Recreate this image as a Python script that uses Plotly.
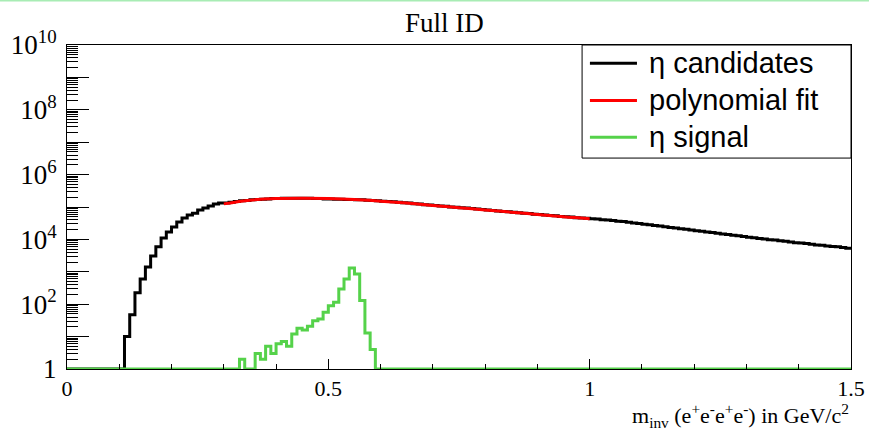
import plotly.graph_objects as go

# ---- data -------------------------------------------------------------
bin_width = 0.01
x_min, x_max = 0.0, 1.5

# eta candidates, counts per 0.01 GeV/c^2 bin (bins 0.00 ... 1.49)
candidates = [
    0, 0, 0, 0, 0, 0, 0, 0, 0, 0,                                  # 0.00-0.09
    0, 10, 47, 224, 603, 1413, 3090, 5888, 10960, 16980,           # 0.10-0.19
    23990, 34670, 45710, 56230, 64570, 81280, 93330, 107200, 123000, 131800,  # 0.20-0.29
    131800, 141300, 147900, 154900, 158500, 166000, 169800, 173800, 177800, 182000,  # 0.30-0.39
    182000, 186200, 186200, 186200, 186200, 186200, 186200, 182000, 182000, 177800,  # 0.40-0.49
    177800, 173800, 173800, 169800, 169800, 166000, 166000, 162200, 158500, 154900,  # 0.50-0.59
    151400, 147900, 144500, 141300, 134900, 131800, 125900, 123000, 117500, 114800,  # 0.60-0.69
    112200, 107200, 104700, 100000, 97720, 95500, 93330, 89130, 87100, 83180,        # 0.70-0.79
    81280, 77620, 75860, 72440, 70790, 69180, 66070, 64570, 63100, 60260,            # 0.80-0.89
    58880, 56230, 54950, 53700, 51290, 50120, 48980, 46770, 45710, 44670,            # 0.90-0.99
    43650, 42660, 40740, 39810, 38020, 36310, 35480, 33880, 32360, 30900,            # 1.00-1.09
    29510, 28180, 26920, 25700, 24550, 23440, 22390, 21380, 20420, 19500,            # 1.10-1.19
    18620, 17780, 16980, 16220, 15490, 14790, 14130, 13490, 12880, 12300,            # 1.20-1.29
    11750, 11220, 10720, 10230, 9772, 9550, 9120, 8710, 8318, 7943,                  # 1.30-1.39
    7762, 7413, 7079, 6761, 6607, 6310, 6026, 5888, 5623, 5370,                      # 1.40-1.49
]

# eta signal, counts per bin (only non-empty region 0.33 - 0.58 listed)
signal_start = 0.33
signal = [2, 0, 0, 3, 2, 5, 3, 6, 7, 5, 12, 18, 16, 21, 31, 35, 56,
          90, 114, 295, 600, 1300, 850, 129, 13, 4]

# polynomial fit, sampled curve (x in GeV/c^2, y in counts)
fit_x = [0.30, 0.35, 0.40, 0.45, 0.50, 0.55, 0.60, 0.65, 0.70, 0.75,
         0.80, 0.85, 0.90, 0.95, 1.00]
fit_y = [125000, 162000, 182000, 186000, 182000, 170000, 151000, 132000,
         112000, 95500, 81300, 69200, 58900, 50100, 43700]

legend_names = ["\u03b7 candidates", "polynomial fit", "\u03b7 signal"]
title_text = "Full ID"
x_title = "m<sub>inv</sub> (e<sup>+</sup>e<sup>-</sup>e<sup>+</sup>e<sup>-</sup>) in GeV/c<sup>2</sup>"
x_tickvals = [0, 0.5, 1, 1.5]
x_ticktext = ["0", "0.5", "1", "1.5"]
y_decades = list(range(0, 11))
y_ticktext = ["1", "", "10<sup>2</sup>", "", "10<sup>4</sup>", "", "10<sup>6</sup>", "",
              "10<sup>8</sup>", "", "10<sup>10</sup>"]

# ---- build histogram step arrays ------------------------------------
n_bins = len(candidates)
edges = [round(x_min + i * bin_width, 4) for i in range(n_bins + 1)]
y_floor = 1  # ROOT draws empty bins at the axis minimum

cand_y = [max(v, y_floor) for v in candidates] + [max(candidates[-1], y_floor)]

sig_full = [0] * n_bins
i0 = int(round((signal_start - x_min) / bin_width))
for k, v in enumerate(signal):
    sig_full[i0 + k] = v
sig_y = [max(v, y_floor) for v in sig_full] + [max(sig_full[-1], y_floor)]

colors = ["black", "#ff0000", "#55d24a"]

# ---- figure -----------------------------------------------------------
serif = "Liberation Serif, Times New Roman, serif"
sans = "Liberation Sans, Arial, sans-serif"

fig = go.Figure()
fig.add_trace(go.Scatter(x=edges, y=cand_y, mode="lines", line=dict(color=colors[0], width=3, shape="hv"),
                         name=legend_names[0]))
fig.add_trace(go.Scatter(x=fit_x, y=fit_y, mode="lines", line=dict(color=colors[1], width=3, shape="spline"),
                         name=legend_names[1]))
fig.add_trace(go.Scatter(x=edges, y=sig_y, mode="lines", line=dict(color=colors[2], width=3, shape="hv"),
                         name=legend_names[2]))

minor_y = [k * 10 ** d for d in range(0, 10) for k in range(2, 10)]

# ROOT-style legend box (TLegend) drawn in paper coordinates
leg_x0, leg_x1, leg_y0, leg_y1 = 0.657, 1.0, 0.651, 1.0
row_y = [0.944, 0.829, 0.715]
sample_x0, sample_x1, text_x = 0.667, 0.727, 0.740

shapes = [dict(type="rect", xref="paper", yref="paper", x0=leg_x0, x1=leg_x1, y0=leg_y0, y1=leg_y1,
               line=dict(color="black", width=1), fillcolor="white", layer="above")]
annotations = []
for name, col, ry in zip(legend_names, colors, row_y):
    shapes.append(dict(type="line", xref="paper", yref="paper", x0=sample_x0, x1=sample_x1, y0=ry, y1=ry,
                       line=dict(color=col, width=3), layer="above"))
    annotations.append(dict(text=name, xref="paper", yref="paper", x=text_x, y=ry, xanchor="left",
                            yanchor="middle", showarrow=False, font=dict(family=sans, size=29, color="black")))

# light green strip along the top edge of the canvas
shapes.append(dict(type="line", xref="paper", yref="paper", x0=-0.1, x1=1.1, y0=1.137, y1=1.137,
                   line=dict(color="#a8ecb4", width=2)))

annotations += [
    dict(text=title_text, xref="paper", yref="paper", x=0.482, y=1.0, yshift=5,
         xanchor="center", yanchor="bottom", showarrow=False,
         font=dict(family=serif, size=27, color="black")),
    dict(text=x_title, xref="paper", yref="paper", x=1.0, y=0, yshift=-29,
         xanchor="right", yanchor="top", showarrow=False,
         font=dict(family=serif, size=22, color="black")),
]

fig.update_layout(
    width=869, height=430,
    margin=dict(l=67, r=18, t=45, b=61, autoexpand=False),
    paper_bgcolor="white", plot_bgcolor="white",
    showlegend=False,
    xaxis=dict(range=[x_min, x_max], showline=True, mirror=True, linecolor="black", linewidth=1,
               automargin=False,
               showgrid=False, zeroline=False, ticks="inside", ticklen=10, tickcolor="black",
               tickmode="array", tickvals=x_tickvals, ticktext=x_ticktext,
               tickfont=dict(family=serif, size=22, color="black"),
               minor=dict(ticks="inside", ticklen=5, tickcolor="black", dtick=0.1, tick0=0, showgrid=False)),
    yaxis=dict(type="log", range=[0, 10], showline=True, mirror=True, linecolor="black", linewidth=1,
               automargin=False, ticklabelstandoff=4,
               showgrid=False, zeroline=False, ticks="inside", ticklen=22, tickcolor="black",
               tickmode="array", tickvals=[10 ** d for d in y_decades], ticktext=y_ticktext,
               tickfont=dict(family=serif, size=27, color="black"),
               minor=dict(ticks="inside", ticklen=11, tickcolor="black", tickmode="array",
                          tickvals=minor_y, showgrid=False)),
    annotations=annotations,
    shapes=shapes,
)

fig.write_html("out.html")
